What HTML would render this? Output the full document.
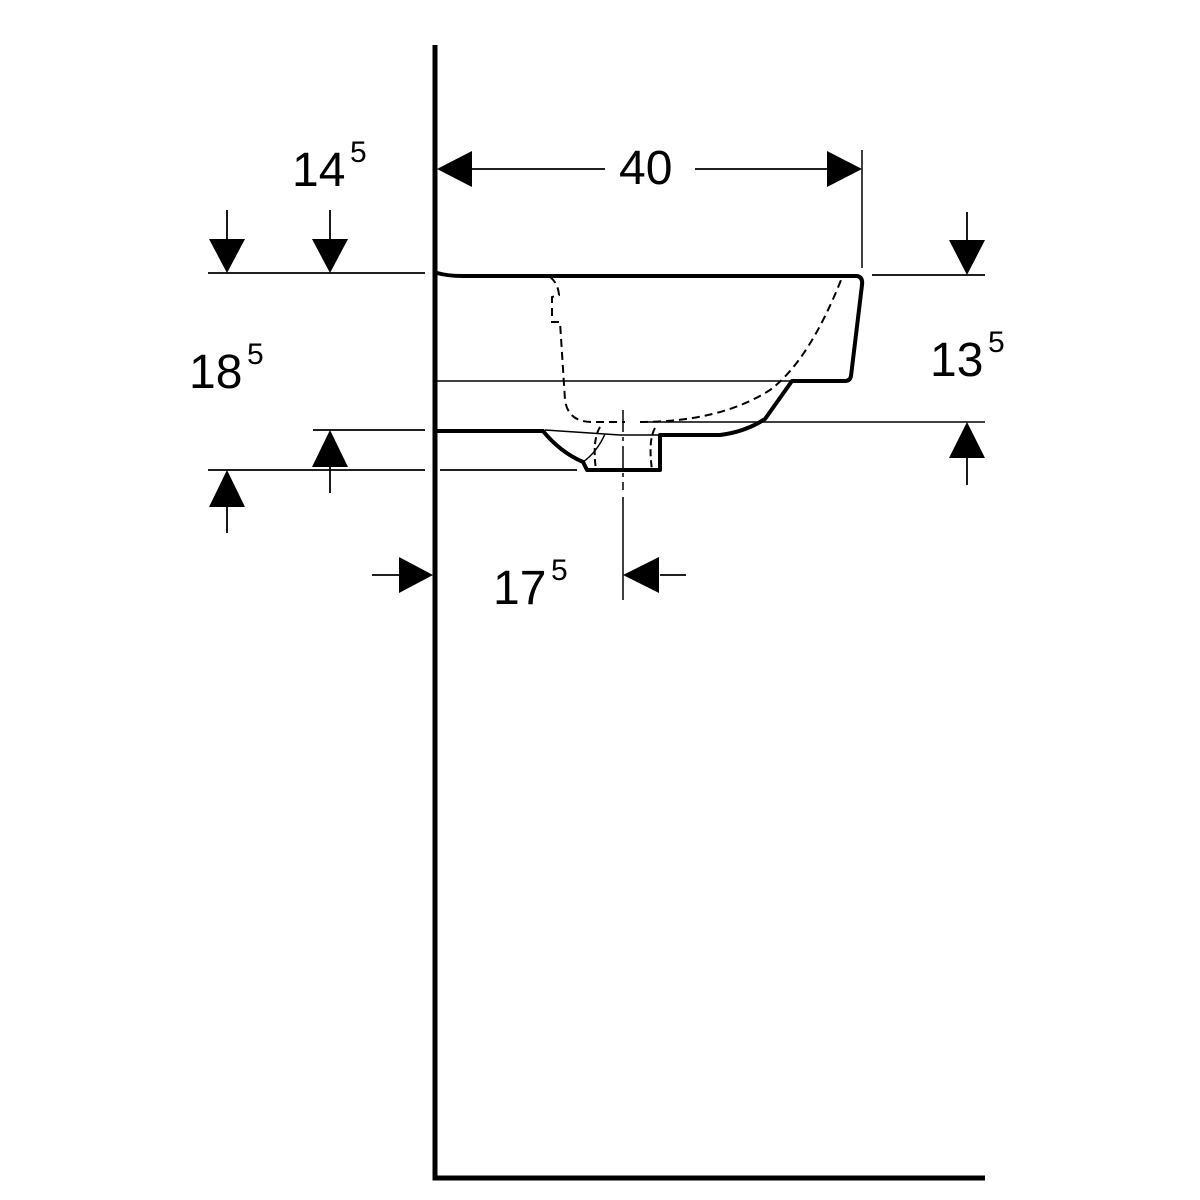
<!DOCTYPE html>
<html><head><meta charset="utf-8"><style>
html,body{margin:0;padding:0;background:#fff}
svg{display:block}
text{font-family:"Liberation Sans",sans-serif;fill:#000}
</style></head><body>
<svg width="1200" height="1200" viewBox="0 0 1200 1200" xmlns="http://www.w3.org/2000/svg">
<g fill="none" stroke="#000">
<path d="M435 45 V1178 H985" stroke-width="5"/>
<path d="M437 273 Q448 276 462 276 H857 Q863 277 862 285 L851 376 Q850 381 845 381 H792 L765 419 Q745 432 720 435 H660 V470 H587 L583 462 Q560 452 543 431 H437" stroke-width="4" stroke-linejoin="round"/>
<path d="M437 381 H792" stroke-width="1.5"/>
<path d="M640 422 H985" stroke-width="1.5"/>
<path d="M545 430 L620 435 H660" stroke-width="1.5"/>
<path d="M605 434 Q597 452 583 462" stroke-width="1.5"/>
<path d="M550 277 Q558 283 559 295 L552 297 V322 L560 322 L565 400 Q568 422 592 422 H625" stroke-width="2" stroke-dasharray="8 5"/>
<path d="M640 422 Q720 422 770 390 Q810 360 843 275" stroke-width="2" stroke-dasharray="8 5"/>
<path d="M600 427 Q592 440 596 470" stroke-width="2" stroke-dasharray="7 4"/>
<path d="M655 428 Q648 440 652 470" stroke-width="2" stroke-dasharray="7 4"/>
<path d="M623 410 V490" stroke-width="1.5" stroke-dasharray="22 5 4 5"/>
<path d="M623 497 V600" stroke-width="1.5"/>
<path d="M472 169 H605 M695 169 H828" stroke-width="1.8"/>
<path d="M862 150 V268" stroke-width="1.5"/>
<path d="M208 273 H425" stroke-width="1.8"/>
<path d="M227 210 V240 M330 210 V240" stroke-width="1.8"/>
<path d="M313 430 H425" stroke-width="1.8"/>
<path d="M330 467 V493" stroke-width="1.8"/>
<path d="M208 470 H425 M440 470 H577" stroke-width="1.8"/>
<path d="M227 507 V533" stroke-width="1.8"/>
<path d="M872 275 H985" stroke-width="1.8"/>
<path d="M967 212 V240" stroke-width="1.8"/>
<path d="M967 458 V485" stroke-width="1.8"/>
<path d="M372 575 H400" stroke-width="1.8"/>
<path d="M660 575 H686" stroke-width="1.8"/>
</g>
<g fill="#000">
<polygon points="437,169 472,151 472,187"/>
<polygon points="862,169 827,151 827,187"/>
<polygon points="227,273 209,239 245,239"/>
<polygon points="330,273 312,239 348,239"/>
<polygon points="330,430 312,467 348,467"/>
<polygon points="227,470 209,507 245,507"/>
<polygon points="967,275 949,240 985,240"/>
<polygon points="967,422 949,458 985,458"/>
<polygon points="433,575 399,557 399,593"/>
<polygon points="623,575 659,557 659,593"/>
</g>
<text x="292" y="186" font-size="48">14</text><text x="350" y="162" font-size="30">5</text>
<text x="189" y="388" font-size="48">18</text><text x="247" y="364" font-size="30">5</text>
<text x="619" y="184" font-size="48">40</text>
<text x="930" y="376" font-size="48">13</text><text x="988" y="352" font-size="30">5</text>
<text x="493" y="604" font-size="48">17</text><text x="551" y="580" font-size="30">5</text>
</svg>
</body></html>
